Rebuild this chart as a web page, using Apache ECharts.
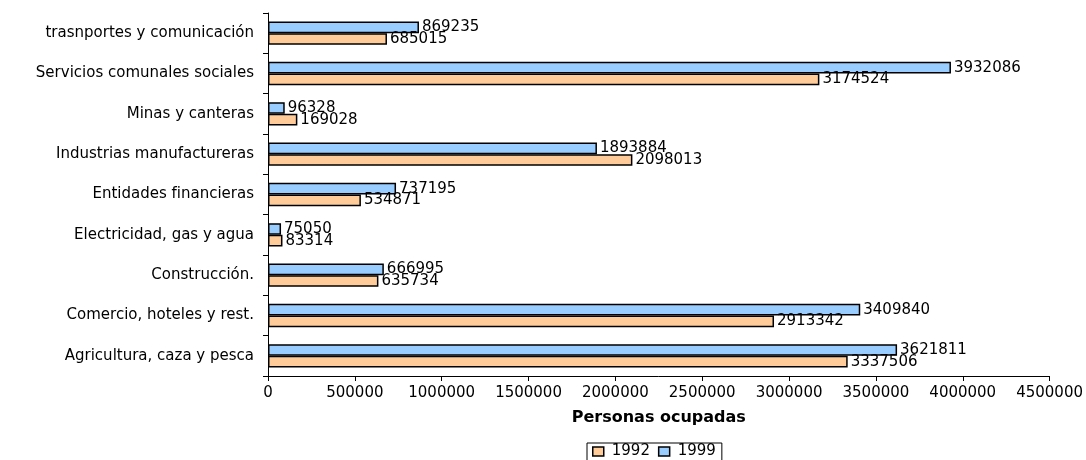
<!DOCTYPE html>
<html lang="es">
<head>
  <meta charset="UTF-8">
  <title>Personas ocupadas</title>
  <script src="https://cdn.jsdelivr.net/npm/echarts@6/dist/echarts.min.js"></script>
  <style>
    body { margin: 0; background: #fff; }
    #chart { width: 1086px; height: 460px; }
  </style>
</head>
<body>
  <div id="chart"></div>
  <script>
    // de abajo hacia arriba (orden del eje en echarts)
    const sectores = [
      'Agricultura, caza y pesca',
      'Comercio, hoteles y rest.',
      'Construcción.',
      'Electricidad, gas y agua',
      'Entidades financieras',
      'Industrias manufactureras',
      'Minas y canteras',
      'Servicios comunales sociales',
      'trasnportes y comunicación'
    ]
    const ocupados1992 = [3337506, 2913342, 635734, 83314, 534871, 2098013, 169028, 3174524, 685015]
    const ocupados1999 = [3621811, 3409840, 666995, 75050, 737195, 1893884, 96328, 3932086, 869235]

    // la imagen original tiene el texto ancho, DejaVu se acerca más
    const fuente = 'DejaVu Sans, Verdana, sans-serif'
    let myChart = echarts.init(document.getElementById('chart'))

    const etiqueta = {
      show: true,
      position: 'right',
      distance: 3,
      color: '#000',
      fontSize: 15,
      fontFamily: fuente
    }

    let option = {
      animation: false,
      textStyle: { fontFamily: fuente },
      grid: { left: 268, right: 34, top: 13, bottom: 84 },
      legend: {
        left: 587,
        top: 443,
        data: ['1992', '1999'],
        icon: 'rect',
        itemWidth: 11,
        itemHeight: 9,
        itemGap: 8,
        padding: [1, 6, 6, 5],
        borderColor: '#000',
        borderWidth: 1,
        itemStyle: { borderColor: '#000', borderWidth: 1.5 },
        textStyle: { fontSize: 15, color: '#000', fontFamily: fuente, padding: [0, 0, 0, 3] }
      },
      xAxis: {
        type: 'value',
        min: 0,
        max: 4500000,
        interval: 500000,
        name: 'Personas ocupadas',
        nameLocation: 'middle',
        nameGap: 34,
        nameTextStyle: { fontSize: 16, fontWeight: 'bold', color: '#000', fontFamily: fuente },
        axisLine: { show: true, lineStyle: { color: '#000' } },
        axisTick: { show: true, length: 5, lineStyle: { color: '#000' } },
        axisLabel: { fontSize: 15, color: '#000', margin: 10, formatter: v => String(v) },
        splitLine: { show: false }
      },
      yAxis: {
        type: 'category',
        data: sectores,
        axisLine: { lineStyle: { color: '#000' } },
        axisTick: { show: true, length: 5, lineStyle: { color: '#000' } },
        axisLabel: { fontSize: 15, color: '#000', margin: 14 }
      },
      // en barras horizontales la primera serie queda arriba
      series: [
        {
          name: '1999',
          type: 'bar',
          data: ocupados1999,
          barGap: '0%',
          barCategoryGap: '42%',
          itemStyle: { color: '#99CCFF', borderColor: '#000', borderWidth: 1.5 },
          label: etiqueta
        },
        {
          name: '1992',
          type: 'bar',
          data: ocupados1992,
          itemStyle: { color: '#FFCC99', borderColor: '#000', borderWidth: 1.5 },
          label: etiqueta
        }
      ]
    }
    myChart.setOption(option)
  </script>
</body>
</html>
